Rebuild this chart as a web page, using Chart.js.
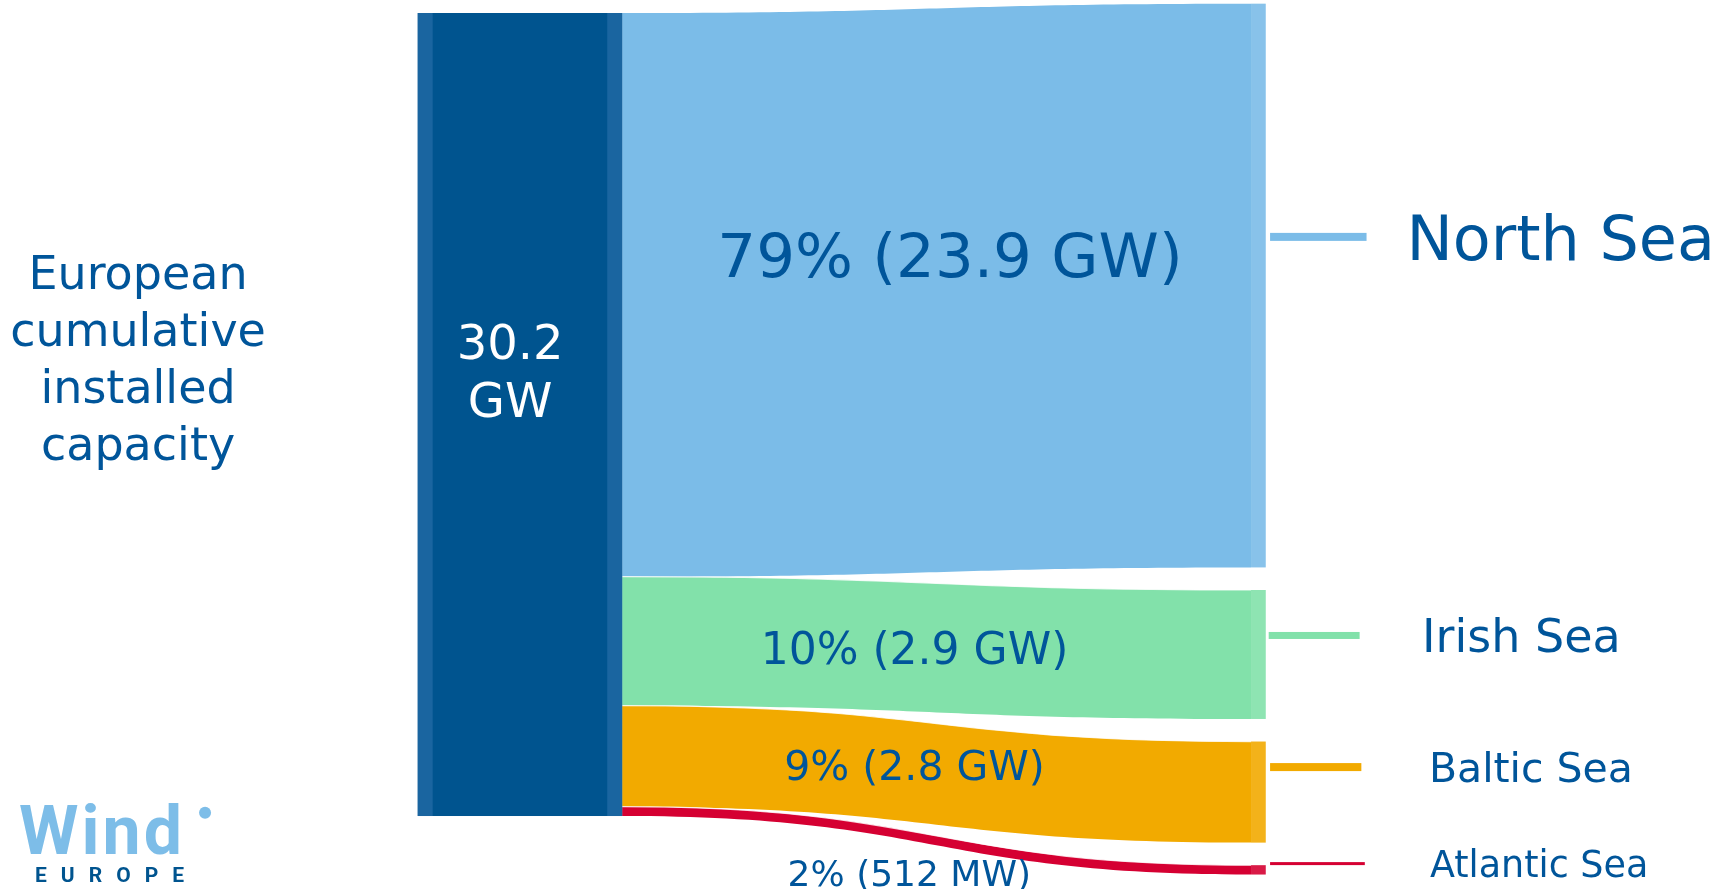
<!DOCTYPE html>
<html>
<head>
<meta charset="utf-8">
<script src="https://cdn.jsdelivr.net/npm/chart.js@4.4.1/dist/chart.umd.min.js"></script>
<style>
  html, body { margin: 0; padding: 0; background: #fff; }
  #wrap { width: 1732px; height: 889px; }
</style>
</head>
<body>
<div id="wrap"><canvas id="sankey"></canvas></div>
<script>
// data
const seas = ['North Sea', 'Irish Sea', 'Baltic Sea', 'Atlantic Sea'];
const shares = [79, 10, 9, 2];
const capacityGW = [23.9, 2.9, 2.8, 0.512];
const totalGW = 30.2;
// band thickness as it is drawn in the original (not to scale), in GW on the y axis
const bandGW = [21.2, 4.85, 3.8, 0.35];
const caption = ['European', 'cumulative', 'installed', 'capacity'];

// styles
const seaColors = ['#7bbce8', '#82e1aa', '#f2aa00', '#d50032'];
const sourceColor = '#00548f';
const sourceEdge = '#1a65a0';
const textColor = '#00559a';
const FONT = '"DejaVu Sans", sans-serif';

// layout: x axis is 0..100 across the canvas, y axis is GW
const layout = {
  xMin: 0, xMax: 100,
  yMin: -2.745, yMax: 30.689,
  source: { x0: 24.12, x1: 35.92, edge: 0.86 },
  target: { x0: 72.23, x1: 73.08, top: 30.55, gap: 0.85 },
  leader: {
    x0: [73.33, 73.25, 73.33, 73.33],
    x1: [78.9, 78.5, 78.6, 78.8],
    y: [21.78, 6.79, 1.84, -1.79],
    width: [8, 7, 8, 3]
  },
  seaLabel: { x: [81.2, 82.1, 82.5, 82.56], size: [62, 46, 41, 36.5] },
  flowLabel: { x: [54.85, 52.8, 52.8, 52.5], y: [21.1, 6.32, 1.9, -2.14], size: [61, 44, 41, 36] },
  caption: { x: 7.97, y: 17.25, size: 46, lineHeight: 57 },
  total: { x: 29.45, y: 16.77, size: 48, lineHeight: 58 },
  logo: { x: 1.1, y: -1.42, size: 68 }
};

function fmtCapacity(gw) {
  return gw < 1 ? Math.round(gw * 1000) + ' MW' : gw.toFixed(1) + ' GW';
}

// text centred on its cap height
function capText(ctx, text, px, py, font, color, align) {
  ctx.font = font;
  ctx.fillStyle = color;
  ctx.textAlign = align || 'center';
  ctx.textBaseline = 'alphabetic';
  const capH = ctx.measureText('H').actualBoundingBoxAscent;
  ctx.fillText(text, px, py + capH / 2);
}

const sankeyPlugin = {
  id: 'sankey',
  beforeDatasetsDraw(chart) {
    const { ctx, scales: { x, y } } = chart;
    const src = layout.source, dst = layout.target;
    const sx1 = x.getPixelForValue(src.x1);
    const tx0 = x.getPixelForValue(dst.x0);
    const tx1 = x.getPixelForValue(dst.x1);
    const xm = (sx1 + tx0) / 2;

    ctx.save();
    let srcTop = totalGW;
    let dstTop = dst.top;
    seas.forEach((sea, i) => {
      const h = bandGW[i];
      const a0 = y.getPixelForValue(srcTop), a1 = y.getPixelForValue(srcTop - h);
      const b0 = y.getPixelForValue(dstTop), b1 = y.getPixelForValue(dstTop - h);

      // flow band
      ctx.beginPath();
      ctx.moveTo(sx1, a0);
      ctx.bezierCurveTo(xm, a0, xm, b0, tx0, b0);
      ctx.lineTo(tx0, b1);
      ctx.bezierCurveTo(xm, b1, xm, a1, sx1, a1);
      ctx.closePath();
      ctx.fillStyle = seaColors[i];
      ctx.fill();
      if (i > 0) {
        ctx.beginPath();
        ctx.moveTo(sx1, a0);
        ctx.bezierCurveTo(xm, a0, xm, b0, tx0, b0);
        ctx.strokeStyle = 'rgba(255,255,255,0.8)';
        ctx.lineWidth = 1.2;
        ctx.stroke();
      }

      // target node
      ctx.fillStyle = seaColors[i];
      ctx.fillRect(tx0, b0, tx1 - tx0, b1 - b0);
      ctx.fillStyle = 'rgba(255,255,255,0.1)';
      ctx.fillRect(tx0, b0, tx1 - tx0, b1 - b0);

      // leader line
      const ly = y.getPixelForValue(layout.leader.y[i]);
      ctx.fillStyle = seaColors[i];
      const lw = layout.leader.width[i];
      const lx0 = x.getPixelForValue(layout.leader.x0[i]);
      const lx1 = x.getPixelForValue(layout.leader.x1[i]);
      ctx.fillRect(lx0, ly - lw / 2, lx1 - lx0, lw);

      // sea name
      capText(ctx, sea, x.getPixelForValue(layout.seaLabel.x[i]), ly,
        layout.seaLabel.size[i] + 'px ' + FONT, textColor, 'left');

      // share label in the band
      const fl = layout.flowLabel;
      capText(ctx, shares[i] + '% (' + fmtCapacity(capacityGW[i]) + ')',
        x.getPixelForValue(fl.x[i]), y.getPixelForValue(fl.y[i]),
        fl.size[i] + 'px ' + FONT, textColor);

      srcTop -= h;
      dstTop -= h + dst.gap;
    });

    // source node
    const sx0 = x.getPixelForValue(src.x0);
    const st = y.getPixelForValue(totalGW), sb = y.getPixelForValue(0);
    ctx.fillStyle = sourceColor;
    ctx.fillRect(sx0, st, sx1 - sx0, sb - st);
    const ew = x.getPixelForValue(src.x0 + src.edge) - sx0;
    ctx.fillStyle = sourceEdge;
    ctx.fillRect(sx0, st, ew, sb - st);
    ctx.fillRect(sx1 - ew, st, ew, sb - st);

    // total
    const tl = layout.total;
    const tcx = x.getPixelForValue(tl.x), tcy = y.getPixelForValue(tl.y);
    capText(ctx, totalGW.toFixed(1), tcx, tcy - tl.lineHeight / 2, tl.size + 'px ' + FONT, '#fff');
    capText(ctx, 'GW', tcx, tcy + tl.lineHeight / 2, tl.size + 'px ' + FONT, '#fff');

    // caption on the left
    const cp = layout.caption;
    const ccx = x.getPixelForValue(cp.x), ccy = y.getPixelForValue(cp.y);
    caption.forEach((line, k) => {
      capText(ctx, line, ccx, ccy + (k - (caption.length - 1) / 2) * cp.lineHeight,
        cp.size + 'px ' + FONT, textColor);
    });

    // WindEurope logo
    const lg = layout.logo;
    const gx = x.getPixelForValue(lg.x), gy = y.getPixelForValue(lg.y);
    ctx.font = 'bold ' + lg.size + 'px Roboto, sans-serif';
    ctx.textAlign = 'left';
    ctx.textBaseline = 'alphabetic';
    ctx.fillStyle = '#7dbde8';
    ctx.letterSpacing = '3px';
    ctx.fillText('Wind', gx, gy);
    ctx.letterSpacing = '0px';
    ctx.beginPath();
    ctx.arc(gx + 186, gy - 41, 6, 0, Math.PI * 2);
    ctx.fill();
    ctx.font = 'bold 21px Roboto, sans-serif';
    ctx.letterSpacing = '14px';
    ctx.fillStyle = '#00548f';
    ctx.fillText('EUROPE', gx + 16, gy + 28);
    ctx.letterSpacing = '0px';
    ctx.restore();
  }
};

new Chart(document.getElementById('sankey'), {
  type: 'scatter',
  data: { datasets: [{ data: [] }] },
  options: {
    responsive: true,
    maintainAspectRatio: false,
    animation: false,
    events: [],
    layout: { padding: 0 },
    plugins: { legend: { display: false }, tooltip: { enabled: false } },
    scales: {
      x: { type: 'linear', min: layout.xMin, max: layout.xMax, display: false },
      y: { type: 'linear', min: layout.yMin, max: layout.yMax, display: false }
    }
  },
  plugins: [sankeyPlugin]
});
</script>
</body>
</html>
